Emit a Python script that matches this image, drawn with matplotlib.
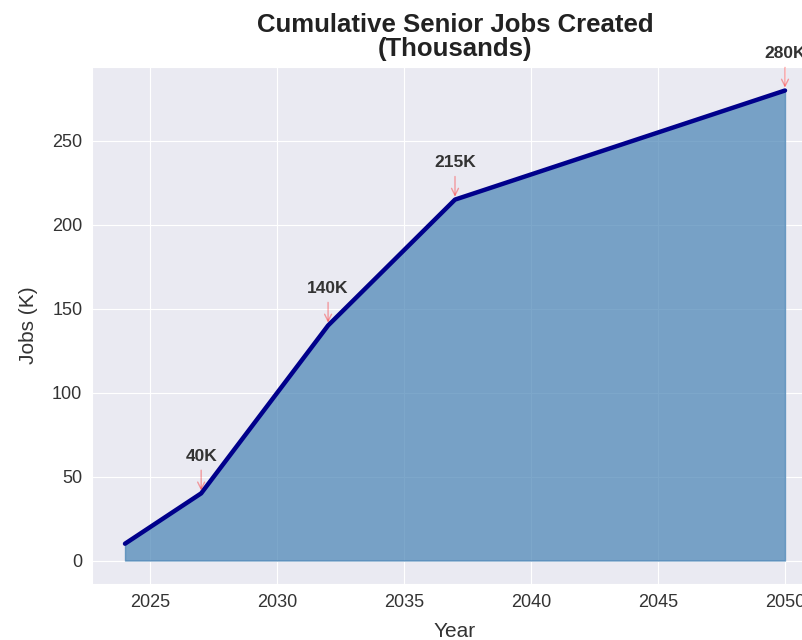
import matplotlib.pyplot as plt
import seaborn as sns

years = [2024, 2027, 2032, 2037, 2050]
jobs = [10, 40, 140, 215, 280]
labeled_years = [2027, 2032, 2037, 2050]
labeled_jobs = [40, 140, 215, 280]
labels = ['40K', '140K', '215K', '280K']

sns.set_style('darkgrid')
plt.rcParams['font.family'] = ['Liberation Sans', 'DejaVu Sans']

fig = plt.figure(figsize=(8.03, 6.4), dpi=100)
# axes runs past the right edge, as in the cropped original
ax = fig.add_axes([92 / 803, 1 - 584 / 640, 726 / 803, 517 / 640])

ax.fill_between(years, jobs, color='steelblue', alpha=0.7)
ax.plot(years, jobs, color='darkblue', linewidth=3.2)

for x, y, t in zip(labeled_years, labeled_jobs, labels):
    ax.annotate(t, xy=(x, y), xytext=(0, 21), textcoords='offset points',
                ha='center', va='bottom', fontsize=12.5, fontweight='bold',
                color='#333333',
                arrowprops=dict(arrowstyle='->', color='red', alpha=0.35, lw=1))

ax.set_title('Cumulative Senior Jobs Created\n(Thousands)', fontsize=18.5,
             fontweight='bold', color='#222222', pad=8, linespacing=1.0)
ax.set_xlabel('Year', fontsize=15, color='#333333', labelpad=8)
ax.set_ylabel('Jobs (K)', fontsize=15, color='#333333', labelpad=10)
ax.tick_params(labelsize=13, colors='#333333')
ax.set_yticks([0, 50, 100, 150, 200, 250])

fig.savefig('out.png', dpi=100)
